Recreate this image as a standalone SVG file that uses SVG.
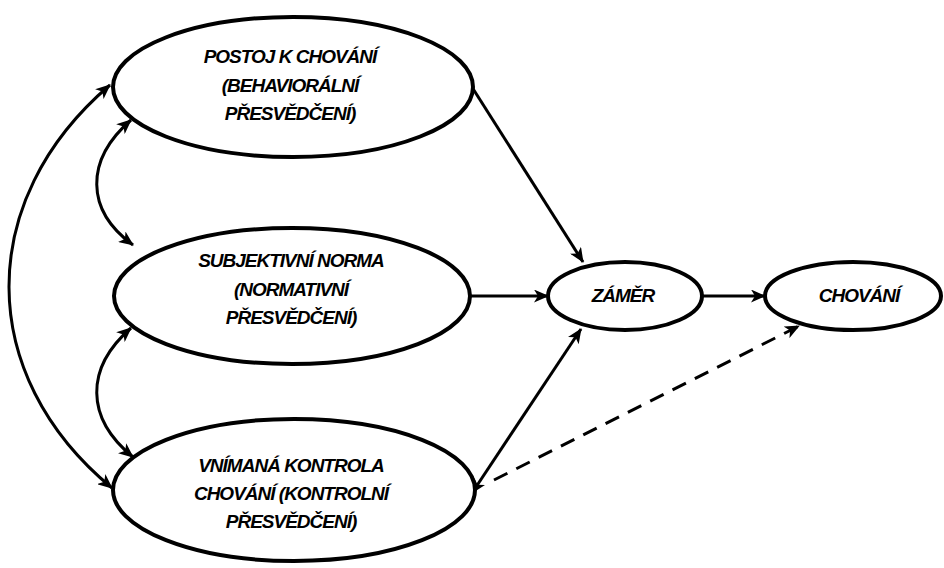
<svg xmlns="http://www.w3.org/2000/svg" width="944" height="568" viewBox="0 0 944 568">
<style>
.node ellipse{fill:#fff;stroke:#000;stroke-width:4}
.node text{font-family:"Liberation Sans",Arial,sans-serif;font-weight:bold;font-style:italic;font-size:19px;letter-spacing:-1px;fill:#000;text-anchor:middle}
#connectors path{fill:none;stroke:#000;stroke-width:3}
#connectors .dash{stroke-dasharray:15,10}
</style>
<defs>
<marker id="ah" markerUnits="userSpaceOnUse" viewBox="0 0 15 13" refX="14" refY="6.5" markerWidth="15" markerHeight="13" orient="auto-start-reverse">
<path d="M0,0 L15,6.5 L0,13 L4,6.5 z" fill="#000"/>
</marker>
</defs>
<rect width="944" height="568" fill="#fff"/>
<g id="connectors">
<path d="M470,84 L583,262" marker-end="url(#ah)"/>
<path d="M470,296 L548,296" marker-end="url(#ah)"/>
<path d="M472,493 L581,329" marker-start="url(#ah)" marker-end="url(#ah)"/>
<path d="M702,296 L765,296" marker-end="url(#ah)"/>
<path class="dash" d="M494,480 L799,326" marker-end="url(#ah)"/>
<path d="M110,85 C -25,200 -25,375 112,488" marker-start="url(#ah)" marker-end="url(#ah)"/>
<path d="M131,120 C 85,160 85,210 133,245" marker-start="url(#ah)" marker-end="url(#ah)"/>
<path d="M131,328 C 85,368 85,418 133,457" marker-start="url(#ah)" marker-end="url(#ah)"/>
</g>
<g id="postoj" class="node">
<ellipse cx="293" cy="87" rx="180" ry="70"/>
<text x="290" y="63">POSTOJ K CHOVÁNÍ</text>
<text x="290" y="92">(BEHAVIORÁLNÍ</text>
<text x="290" y="120">PŘESVĚDČENÍ)</text>
</g>
<g id="norma" class="node">
<ellipse cx="292" cy="296" rx="178" ry="68"/>
<text x="291" y="267">SUBJEKTIVNÍ NORMA</text>
<text x="291" y="296">(NORMATIVNÍ</text>
<text x="291" y="324">PŘESVĚDČENÍ)</text>
</g>
<g id="kontrola" class="node">
<ellipse cx="294" cy="490" rx="181" ry="71"/>
<text x="291" y="472">VNÍMANÁ KONTROLA</text>
<text x="291" y="500">CHOVÁNÍ (KONTROLNÍ</text>
<text x="291" y="528">PŘESVĚDČENÍ)</text>
</g>
<g id="zamer" class="node">
<ellipse cx="625" cy="296" rx="77" ry="34"/>
<text x="623" y="302">ZÁMĚR</text>
</g>
<g id="chovani" class="node">
<ellipse cx="853" cy="296" rx="88" ry="34"/>
<text x="859" y="302">CHOVÁNÍ</text>
</g>
</svg>
